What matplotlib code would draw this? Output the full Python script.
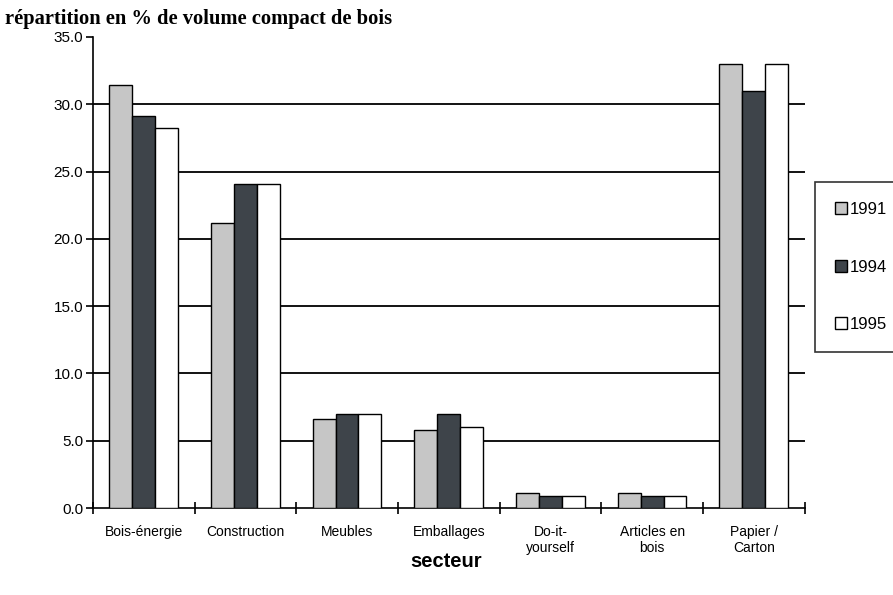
import numpy as np
import matplotlib
matplotlib.use("Agg")
import matplotlib.pyplot as plt

secteurs = ["Bois-énergie", "Construction", "Meubles", "Emballages",
            "Do-it-\nyourself", "Articles en\nbois", "Papier /\nCarton"]
annees = ["1991", "1994", "1995"]
v1991 = [31.4, 21.2, 6.6, 5.8, 1.1, 1.1, 33.0]
v1994 = [29.1, 24.1, 7.0, 7.0, 0.9, 0.9, 31.0]
v1995 = [28.2, 24.1, 7.0, 6.0, 0.9, 0.9, 33.0]
couleurs = ["#c6c6c6", "#3e444a", "#ffffff"]

plt.rcParams['font.family'] = ['Liberation Sans', 'DejaVu Sans']

fig = plt.figure(figsize=(8.93, 5.95), dpi=100)
ax = fig.add_axes([0.104, 0.146, 0.797, 0.792])

x = np.arange(len(secteurs))
w = 0.225
for i, (vals, lab) in enumerate(zip([v1991, v1994, v1995], annees)):
    ax.bar(x + (i - 1) * w, vals, w, color=couleurs[i], edgecolor="black",
           linewidth=1.0, label=lab, zorder=3)

ax.set_xlim(-0.5, len(secteurs) - 0.5)
ax.set_ylim(0, 35)
ax.set_yticks(np.arange(0, 36, 5))
ax.set_yticklabels(["%.1f" % t for t in np.arange(0, 36, 5)], fontsize=11)
for t in np.arange(5, 35, 5):
    ax.axhline(t, color="black", linewidth=1.3, zorder=1)

ax.set_xticks(np.arange(-0.5, len(secteurs), 1.0))
ax.set_xticklabels([])
ax.set_xticks(x, minor=True)
ax.set_xticklabels(secteurs, minor=True, fontsize=10)
ax.tick_params(axis="x", which="major", length=8, width=1.2, direction="inout")
ax.tick_params(axis="x", which="minor", length=0, pad=12)
ax.tick_params(axis="y", length=5, width=1.2, pad=2)

for s in ["top", "right"]:
    ax.spines[s].set_visible(False)
for s in ["left", "bottom"]:
    ax.spines[s].set_linewidth(1.2)

fig.text(0.006, 0.985, "répartition en % de volume compact de bois",
         family="Liberation Serif", fontweight="bold", fontsize=14.8,
         va="top", ha="left")
fig.text(0.5, 0.056, "secteur", fontweight="bold", fontsize=14.5,
         ha="center", va="center")

leg = fig.legend(loc="upper left", bbox_to_anchor=(0.913, 0.694),
                 fontsize=12, frameon=True, fancybox=False, edgecolor="black",
                 handlelength=0.72, handleheight=0.72, handletextpad=0.15,
                 labelspacing=2.55, borderpad=1.2, borderaxespad=0)
leg.get_frame().set_linewidth(1.2)

fig.savefig("out.png", dpi=100)
